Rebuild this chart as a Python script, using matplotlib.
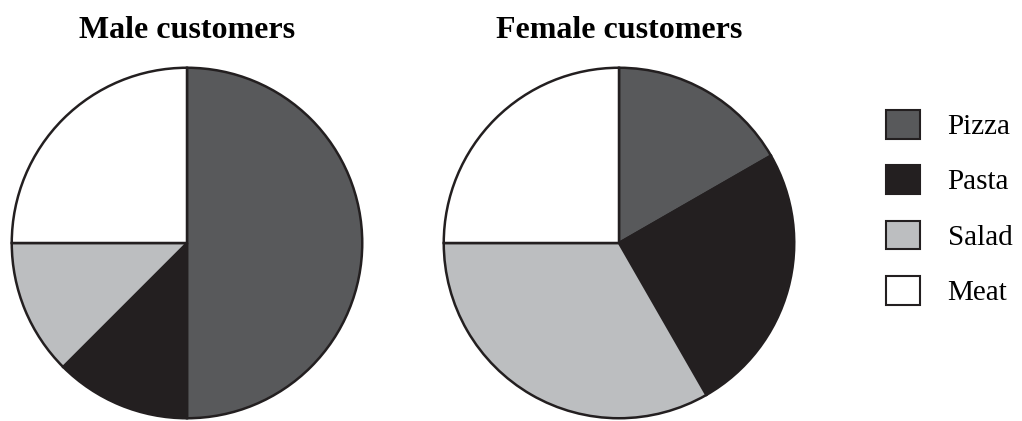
import matplotlib
matplotlib.use('Agg')
import matplotlib.pyplot as plt
from matplotlib.patches import Patch

plt.rcParams['font.family'] = 'Liberation Serif'

# data
foods = ['Pizza', 'Pasta', 'Salad', 'Meat']
colors = ['#58595b', '#231f20', '#bcbec0', '#ffffff']
male = [50, 12.5, 12.5, 25]
female = [16.7, 25, 33.3, 25]
titles = ['Male customers', 'Female customers']

W, H = 1022, 421
fig = plt.figure(figsize=(W / 100, H / 100), dpi=100)

# pie axes placed in pixel terms (center x, center y from top, radius)
pies = [(male, 187, 243, 177), (female, 619, 243, 177)]
for (vals, cx, cy, r), title in zip(pies, titles):
    ax = fig.add_axes([(cx - r) / W, (H - cy - r) / H, 2 * r / W, 2 * r / H])
    ax.pie(vals, colors=colors, startangle=90, counterclock=False, radius=1,
           wedgeprops=dict(edgecolor='#231f20', linewidth=1.8))
    ax.set_xlim(-1.01, 1.01)
    ax.set_ylim(-1.01, 1.01)
    ax.set_aspect('equal')
    ax.axis('off')
    fig.text(cx / W, 1 - 31 / H, title, ha='center', va='center',
             fontsize=23, fontweight='bold')

handles = [Patch(facecolor=c, edgecolor='#231f20', linewidth=1.5) for c in colors]
fig.legend(handles, foods, loc='center left', bbox_to_anchor=(860 / W, 1 - 208 / H),
           frameon=False, fontsize=21, handlelength=1.15, handleheight=1.15,
           labelspacing=0.86, handletextpad=0.95)

fig.savefig('out.png', dpi=100)
